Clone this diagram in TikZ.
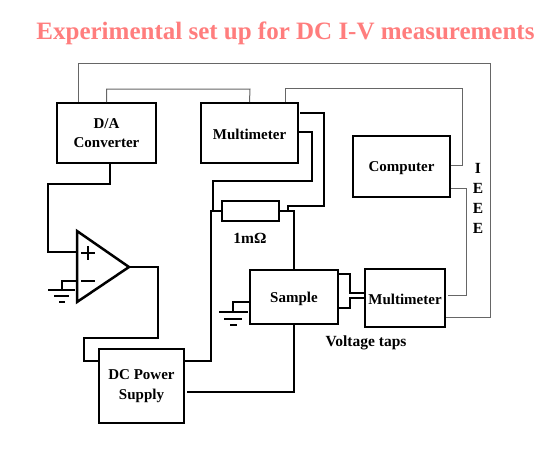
\documentclass[tikz,border=0pt]{standalone}
\usepackage{fontspec}
\setmainfont{Liberation Serif}
\usetikzlibrary{
  arrows.meta,
  positioning
}
\definecolor{titlered}{RGB}{255,125,125}
\tikzset{
  unit/.style = {
    draw,
    line width=2pt,
    align=center,
    inner sep=0pt,
    execute at begin node={\rule{0pt}{14pt}},
    font=\fontsize{15}{19.5}\selectfont\bfseries
  },
  wire/.style = {
    line width=2pt,
    line join=miter
  },
  bus/.style = {
    line width=1pt,
    color=black!60
  },
  caption/.style = {
    align=center,
    inner sep=0pt,
    font=\fontsize{15.5}{20}\selectfont\bfseries
  },
}

\begin{document}
\begin{tikzpicture}
				[
				x=1pt,y=-1pt
				]
				\useasboundingbox (0,0) rectangle (560,448);
				\node[inner sep=0pt,text=titlered,font=\fontsize{25}{30}\selectfont\bfseries] (title) at (285.5,33.5) {Experimental set up for DC I-V measurements};
				
				\node[unit,minimum width=99pt,minimum height=60pt] (da) at (106.5,133) {D/A\\Converter};
				\node[unit,minimum width=97pt,minimum height=60pt] (mma) at (249.5,133) {Multimeter};
				\node[unit,minimum width=97pt,minimum height=61pt] (pc) at (401.5,166.5) {Computer};
				\node[unit,minimum width=57pt,minimum height=20pt] (shunt) at (250.5,211) {};
				\node[unit,minimum width=88pt,minimum height=54pt] (sample) at (294,297) {Sample};
				\node[unit,minimum width=80pt,minimum height=58pt] (mmb) at (405,298) {Multimeter};
				\node[unit,minimum width=85pt,minimum height=74pt] (dc) at (141.5,386) {DC Power\\Supply};
				
				\node[caption] (ohm) at (250,238) {1mΩ};
				\node[caption] (taps) at (366,342.5) {Voltage taps};
				\node[caption] (ieee) at (478,198) {I\\E\\E\\E};
				
				\coordinate (ampa) at (77,231);
				\coordinate (ampb) at (77,302);
				\coordinate (ampout) at (129,267);
				\coordinate (ampplus) at (77,252);
				\coordinate (ampminus) at (77,281);
				\coordinate (gnda) at (62,290);
				\coordinate (gndb) at (233,312);
				\draw[wire,line width=2.5pt] (ampa) -- (ampb) -- (ampout) -- cycle;
				\draw[wire] (81,253) -- (95,253) (88,246) -- (88,260);
				\draw[wire] (81,281) -- (95,281);
				
				% ground symbols
				\draw[wire,line width=1.5pt] (48,290) -- (75,290) (54,296) -- (69,296) (59,302) -- (65,302);
				\draw[wire,line width=1.5pt] (219,312) -- (248,312) (224,319) -- (242,319) (230,325) -- (237,325);
				\draw[wire] (ampminus) -| (gnda);
				\draw[wire] ([yshift=-5pt]sample.west) -| (gndb);
				
				% power wiring
				\draw[wire] ([xshift=3.5pt]da.south) |- (48,184) |- (ampplus);
				\draw[wire] (ampout) -| (158,338) -| (84,361) -- ([yshift=25pt]dc.west);
				\draw[wire] ([yshift=25pt]dc.east) -| (211,211) -- (shunt.west);
				\draw[wire] ([yshift=1pt]mma.east) -| (312,181) -| (213,211);
				\draw[wire] (300,113) -| (324,206) -| (288,211);
				\draw[wire] (shunt.east) -| (sample.north);
				\draw[wire] (sample.south) |- ([xshift=2pt,yshift=-6pt]dc.east);
				\draw[wire] ([yshift=23pt]sample.east) -| (350,293) -- ([yshift=5pt]mmb.west);
				\draw[wire] ([yshift=-11pt]sample.east) -| (350,298) -- (mmb.west);
				
				% instrument bus
				\draw[bus] ([xshift=-28.5pt]da.north) |- (490,63) |- (mmb.east |- 0,317);
				\draw[bus] (da.north) |- (250,89) -- (mma.north);
				\draw[bus] ([xshift=35.5pt]mma.north) |- (462,88) |- (pc.east |- 0,165);
				\draw[bus] (pc.east |- 0,188) -| (466,295) -- (448,295);
		\end{tikzpicture}
\end{document}
